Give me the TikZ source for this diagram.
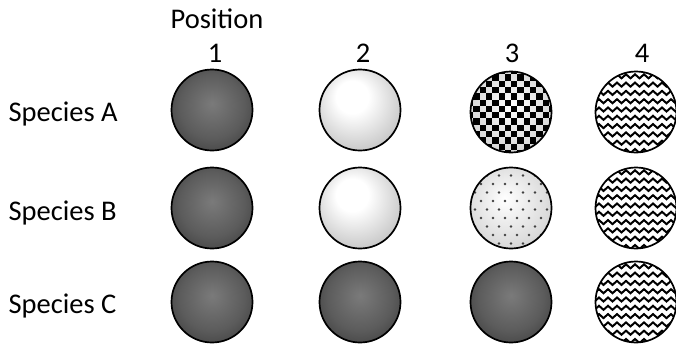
\documentclass[tikz,border=0pt]{standalone}
\usepackage{fontspec}
\setmainfont{Carlito}
\usetikzlibrary{positioning}

% shadings for the balls
\pgfdeclareradialshading{darkball}{\pgfpoint{0bp}{4bp}}{color(0bp)=(black!52); color(20bp)=(black!64); color(40bp)=(black!82); color(50bp)=(black!90)}
\pgfdeclareradialshading{lightball}{\pgfpoint{-6bp}{10bp}}{color(0bp)=(white); color(10bp)=(white); color(30bp)=(black!22); color(50bp)=(black!45)}
\pgfdeclareradialshading{checkball}{\pgfpoint{0bp}{4bp}}{color(0bp)=(white); color(25bp)=(black!15); color(50bp)=(black!45)}
\pgfdeclareradialshading{dotball}{\pgfpoint{-4bp}{6bp}}{color(0bp)=(white); color(25bp)=(black!14); color(50bp)=(black!35)}

\tikzstyle{ball} = [circle, draw=black, line width=1.7pt, minimum size=81pt, inner sep=0pt]
\tikzstyle{dark} = [ball, shading=darkball]
\tikzstyle{light} = [ball, shading=lightball]
\tikzstyle{checker} = [ball, shading=checkball, path picture={
    \foreach \i in {0,...,13}
      \foreach \j in {0,...,13} {
        \pgfmathtruncatemacro\odd{mod(\i+\j,2)}
        \ifnum\odd=1 \fill[black] ({\i*6.3-44},{\j*6.3-44}) rectangle ++(6.3,6.3); \fi
      }}]
\tikzstyle{dotty} = [ball, shading=dotball, path picture={
    \foreach \r in {0,...,10}
      \foreach \c in {0,...,7}
        \fill[black!75] ({\c*12+mod(\r,2)*6-42},{\r*8.5-41}) circle (1.4);}]
\tikzstyle{zigzag} = [ball, fill=white, path picture={
    \foreach \r in {0,...,11}
      \draw[line width=2pt] (-46,{\r*8.3-46}) \foreach \k in {0,...,10} { -- ++(4.5,4) -- ++(4.5,-4) };}]

\begin{document}
\begin{tikzpicture}[x=1pt, y=-1pt, every node/.style={font=\fontsize{28.5}{32}\selectfont}]
    \useasboundingbox (0,0) rectangle (676,348);

    \node (pos) [anchor=base] at (217,28) {Position};
    \foreach \n/\x in {1/215, 2/363, 3/512, 4/642} {
        \node (p\n) [anchor=base] at (\x,62) {\n};
    }
    \foreach \s/\y in {A/121, B/220, C/313} {
        \node (sp\s) [anchor=base west] at (5,\y) {Species \s};
    }

    % row A
    \node (a1) [dark] at (212,110) {};
    \node (a2) [light] at (360,110) {};
    \node (a3) [checker] at (511,112) {};
    \node (a4) [zigzag] at (636,112) {};
    % row B
    \node (b1) [dark] at (212,208) {};
    \node (b2) [light] at (360,208) {};
    \node (b3) [dotty] at (511,208) {};
    \node (b4) [zigzag] at (636,208) {};
    % row C
    \node (c1) [dark] at (212,302) {};
    \node (c2) [dark] at (360,302) {};
    \node (c3) [dark] at (511,302) {};
    \node (c4) [zigzag] at (636,302) {};
\end{tikzpicture}
\end{document}
